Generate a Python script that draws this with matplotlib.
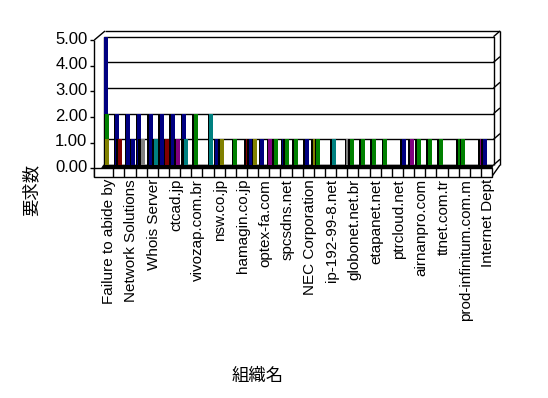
import numpy as np
import matplotlib.pyplot as plt
from matplotlib.patches import Polygon, Rectangle

plt.rcParams['font.family'] = ['Liberation Sans', 'Noto Sans CJK JP', 'DejaVu Sans']

# 35 organisations, only every other name is printed under the axis
org_labels = ["Failure to abide by", "Network Solutions", "Whois Server", "ctcad.jp",
              "vivozap.com.br", "nsw.co.jp", "hamagin.co.jp", "optex-fa.com",
              "spcsdns.net", "NEC Corporation", "ip-192-99-8.net", "globonet.net.br",
              "etapanet.net", "ptrcloud.net", "airnanpro.com", "ttnet.com.tr",
              "prod-infinitum.com.m", "Internet Dept"]
n_org = 35
y_ticks = [0, 1, 2, 3, 4, 5]

# request counts per organisation, one list per series
navy_1   = [5, 2, 2, 2, 2, 2, 2, 2, 0, 0,  1, 0, 0, 1, 1, 0, 1, 0, 1, 0,  0, 0, 0, 0, 0, 0, 0, 0, 0, 0,  0, 0, 0, 0, 1]
green_1  = [2, 0, 0, 0, 0, 0, 0, 0, 2, 0,  0, 0, 0, 0, 0, 0, 0, 1, 0, 1,  0, 0, 1, 1, 1, 1, 0, 0, 1, 1,  1, 0, 1, 0, 0]
olive_1  = [1, 0, 0, 0, 0, 0, 0, 0, 0, 0,  0, 0, 0, 0, 0, 0, 0, 0, 0, 0,  0, 0, 0, 0, 0, 0, 0, 0, 0, 0,  0, 0, 0, 0, 0]
teal_1   = [0, 0, 0, 0, 0, 0, 0, 1, 0, 0,  0, 0, 0, 0, 0, 0, 0, 0, 0, 0,  0, 0, 0, 0, 0, 0, 0, 0, 0, 0,  0, 0, 0, 0, 0]
maroon_1 = [0, 1, 0, 1, 0, 0, 0, 0, 0, 0,  0, 0, 0, 0, 0, 0, 0, 0, 0, 0,  0, 0, 0, 0, 0, 0, 0, 0, 0, 0,  0, 0, 0, 0, 0]
green_2  = [0, 0, 0, 0, 0, 0, 0, 0, 0, 0,  0, 0, 0, 0, 0, 1, 1, 0, 0, 0,  0, 0, 0, 0, 0, 0, 0, 0, 0, 0,  0, 0, 0, 0, 0]
gray_1   = [0, 0, 0, 1, 0, 0, 0, 0, 0, 0,  0, 0, 0, 0, 0, 0, 0, 0, 0, 0,  0, 0, 0, 0, 0, 0, 0, 0, 0, 0,  0, 0, 0, 0, 0]
olive_2  = [0, 0, 0, 0, 0, 0, 0, 0, 0, 0,  1, 0, 0, 1, 0, 0, 0, 0, 0, 0,  0, 0, 0, 0, 0, 0, 0, 0, 0, 0,  0, 0, 0, 0, 0]
purple_1 = [0, 0, 0, 0, 0, 0, 1, 0, 0, 0,  0, 0, 0, 0, 0, 0, 0, 0, 0, 0,  0, 0, 0, 0, 0, 0, 0, 1, 0, 0,  0, 0, 0, 0, 0]
teal_2   = [0, 0, 0, 0, 1, 0, 0, 0, 0, 2,  0, 0, 0, 0, 0, 0, 0, 0, 0, 0,  1, 0, 0, 0, 0, 0, 0, 0, 0, 0,  0, 0, 0, 0, 0]
navy_2   = [0, 0, 1, 0, 0, 0, 0, 0, 0, 0,  0, 0, 0, 0, 0, 0, 0, 0, 0, 0,  0, 0, 0, 0, 0, 0, 0, 0, 0, 0,  0, 0, 0, 0, 0]
maroon_2 = [0, 0, 0, 0, 0, 1, 0, 0, 0, 0,  0, 0, 0, 0, 0, 0, 0, 0, 0, 0,  0, 0, 0, 0, 0, 0, 0, 0, 0, 0,  0, 0, 0, 0, 0]
green_3  = [0, 0, 0, 0, 0, 0, 0, 0, 0, 0,  0, 1, 0, 0, 0, 0, 0, 0, 0, 0,  0, 0, 0, 0, 0, 0, 0, 0, 0, 0,  0, 0, 0, 0, 0]
maroon_3 = [0, 0, 0, 0, 0, 0, 0, 0, 0, 0,  0, 0, 0, 1, 0, 0, 0, 0, 0, 0,  0, 0, 0, 0, 0, 0, 0, 0, 0, 0,  0, 0, 0, 0, 0]
olive_3  = [0, 0, 0, 0, 0, 0, 0, 0, 0, 0,  0, 0, 0, 0, 0, 0, 0, 0, 0, 1,  0, 0, 0, 0, 0, 0, 0, 0, 0, 0,  0, 0, 0, 0, 0]
gray_2   = [0, 0, 0, 0, 0, 0, 0, 0, 0, 0,  0, 0, 0, 0, 0, 0, 0, 0, 0, 0,  0, 0, 1, 0, 0, 0, 0, 0, 0, 0,  0, 0, 0, 0, 0]
navy_3   = [0, 0, 0, 0, 0, 0, 0, 0, 0, 0,  0, 0, 0, 0, 0, 0, 0, 0, 0, 0,  0, 0, 0, 0, 0, 0, 0, 1, 0, 0,  0, 0, 0, 0, 0]
green_4  = [0, 0, 0, 0, 0, 0, 0, 0, 0, 0,  0, 0, 0, 0, 0, 0, 0, 0, 0, 0,  0, 0, 0, 0, 0, 0, 0, 0, 0, 0,  0, 0, 1, 0, 0]
purple_2 = [0, 0, 0, 0, 0, 0, 0, 0, 0, 0,  0, 0, 0, 0, 0, 1, 0, 0, 0, 0,  0, 0, 0, 0, 0, 0, 0, 0, 0, 0,  0, 0, 0, 0, 1]

NAVY, GREEN, OLIVE, MAROON = '#000080', '#008000', '#808000', '#800000'
GRAY, TEAL, PURPLE = '#808080', '#008080', '#800080'

# (values, colour, offset of the bar inside its category slot in px)
series = [
    (maroon_3, MAROON, -3), (olive_3, OLIVE, -3), (gray_2, GRAY, -3),
    (navy_3, NAVY, -3), (green_4, GREEN, -3), (purple_2, PURPLE, -3),
    (navy_1, NAVY, 0), (green_1, GREEN, 0.5), (olive_1, OLIVE, 1),
    (teal_1, TEAL, 1.5), (maroon_1, MAROON, 2.5), (green_2, GREEN, 2.5),
    (gray_1, GRAY, 4), (olive_2, OLIVE, 4.5), (purple_1, PURPLE, 5),
    (teal_2, TEAL, 5), (navy_2, NAVY, 5), (maroon_2, MAROON, 5.5),
    (green_3, GREEN, 6.5),
]

W, H = 548, 398
fig = plt.figure(figsize=(W / 100, H / 100), dpi=100)
# axes = back wall of the 3d box
ax = fig.add_axes([103.5 / W, 1 - 165 / H, 390 / W, 128.3 / H])
ax.set_xlim(0, n_org)
ax.set_ylim(0, 5)
ax.set_facecolor('none')
for s in ax.spines.values():
    s.set_visible(False)
ax.set_yticks([])

PX = n_org / 390.0   # data units per pixel
PY = 5 / 128.3
kw = dict(color='black', lw=1, clip_on=False, solid_capstyle='butt')

# back wall + gridlines
ax.plot([0, 0, n_org, n_org], [0, 5, 5, 0], **kw)
ax.hlines(y_ticks[1:-1], 0, n_org, colors='black', lw=1, zorder=1)
# wall thickness (top + right)
ax.plot([1.5 * PX, n_org + 6.5 * PX], [5 + 5.7 * PY] * 2, **kw)
ax.plot([-9.2 * PX, 1.5 * PX], [5 - 3.3 * PY, 5 + 5.7 * PY], **kw)
ax.plot([n_org + 6.5 * PX] * 2, [0, 5 + 5.7 * PY], **kw)
for k in y_ticks:
    ax.plot([n_org, n_org + 6.5 * PX], [k, k + 5.7 * PY], **kw)
ax.plot([n_org + 6.5 * PX, n_org - 1.8 * PX], [0, -11.7 * PY], **kw)

# front value axis with ticks and labels
ax.plot([-9.2 * PX] * 2, [5 - 3.3 * PY, -11.7 * PY], **kw)
for k in y_ticks:
    ax.plot([-9.2 * PX, -13.5 * PX], [k - 3.3 * PY] * 2, **kw)
    ax.text(-16 * PX, k - 2.5 * PY, f'{k:.2f}', ha='right', va='center', fontsize=12)

# floor and its front edge with category cells
ax.add_patch(Polygon([(0, 0), (n_org, 0), (n_org - 1.5 * PX, -3.3 * PY), (-2 * PX, -3.3 * PY)],
                     closed=True, fc='black', ec='black', lw=0.5, clip_on=False, zorder=2))
ax.add_patch(Rectangle((-9.2 * PX, -11.7 * PY), n_org + 7.4 * PX, 8.4 * PY,
                       fc='white', ec='black', lw=1, clip_on=False, zorder=2))
for k in range(1, n_org):
    ax.plot([k - 1.3 * PX] * 2, [-3.3 * PY, -11.7 * PY], zorder=2, **kw)

# bars: black side face then coloured front face
face_w = 4 * PX
side_w = 1.5 * PX
cats = np.arange(n_org)
for vals, col, off in series:
    vals = np.asarray(vals, float)
    m = vals > 0
    x0 = cats[m] + (0.5 + off) * PX
    ax.bar(x0 - side_w, vals[m], width=side_w + face_w / 2, align='edge',
           color='black', lw=0, zorder=3)
    ax.bar(x0, vals[m], width=face_w, align='edge', color=col, lw=0, zorder=3)

ax.set_xticks(np.arange(0, n_org, 2) + 0.5, org_labels, rotation=90, fontsize=11)
ax.tick_params(axis='x', length=0, pad=10)

fig.text(31 / W, 1 - 190 / H, '要求数', rotation=90, ha='center', va='center', fontsize=12.5)
fig.text(258 / W, 1 - 376 / H, '組織名', ha='center', va='center', fontsize=12.5)

fig.savefig('out.png', dpi=100, facecolor='white')
